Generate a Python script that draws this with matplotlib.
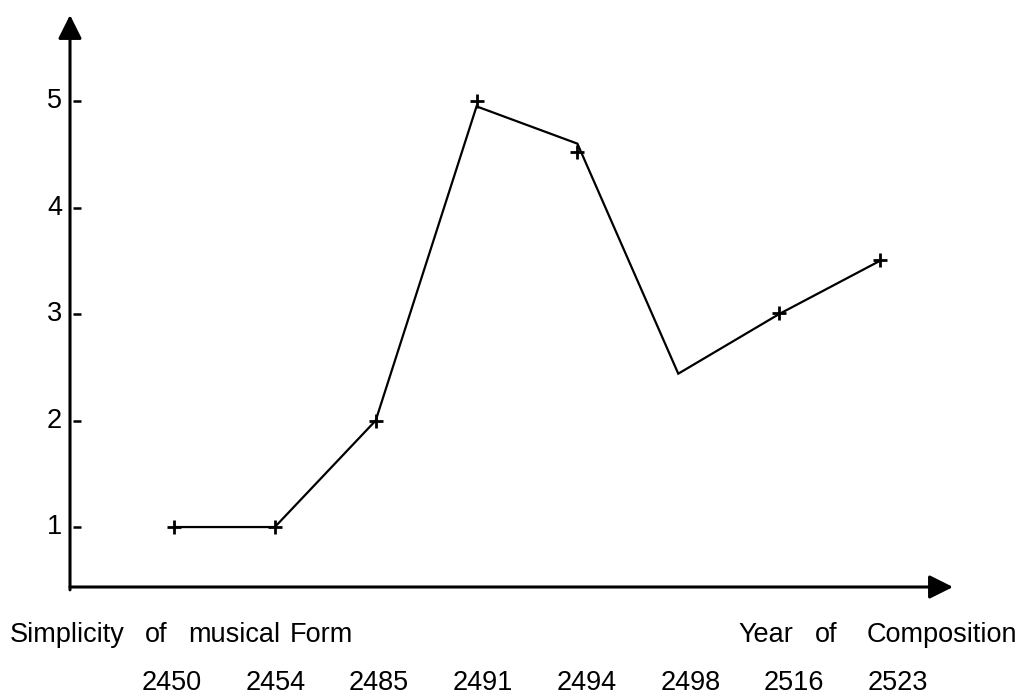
import numpy as np
import matplotlib
matplotlib.use("Agg")
import matplotlib.pyplot as plt
from matplotlib.transforms import blended_transform_factory

plt.rcParams['font.family'] = ['Liberation Sans', 'DejaVu Sans']

# datos
years = ['2450', '2454', '2485', '2491', '2494', '2498', '2516', '2523']
line_values = [1.0, 1.0, 2.0, 4.95, 4.6, 2.44, 3.0, 3.5]       # vertices de la linea
marker_values = [1.0, 1.0, 2.0, 5.0, 4.52, np.nan, 3.01, 3.51]  # cruces (+)
y_ticks = [1, 2, 3, 4, 5]

W, H = 1023, 697
fig = plt.figure(figsize=(W / 100, H / 100), dpi=100)

# origen de los ejes en (70, 587) px, flechas hasta x=953 y y=15
ax = fig.add_axes([70 / W, (H - 587) / H, (953 - 70) / W, (587 - 15) / H])
ax.set_xlim(-1.031, 7.724)
ax.set_ylim(0.437, 5.808)
ax.set_axis_off()

x = np.arange(len(years))
ax.plot(x, line_values, color='black', lw=1.6, solid_joinstyle='miter')
ax.plot(x, marker_values, ls='none', marker='+', color='black',
        markersize=10, markeredgewidth=2.0)

# ejes con flecha
arrow = dict(arrowstyle='-|>', lw=2.2, color='black', mutation_scale=36,
             shrinkA=0, shrinkB=0)
ax.annotate('', xy=(0, 1), xytext=(0, -0.005), xycoords='axes fraction', arrowprops=arrow)
ax.annotate('', xy=(1, 0), xytext=(0, 0), xycoords='axes fraction', arrowprops=arrow)

# marcas del eje y (guiones separados del eje) y sus etiquetas
trans = blended_transform_factory(ax.transAxes, ax.transData)
ax.plot(np.full(len(y_ticks), 0.0074), y_ticks, ls='none', marker='_', color='black',
        markersize=5.5, markeredgewidth=1.8, transform=trans)
for v in y_ticks:
    ax.text(-0.009, v, str(v), transform=trans, ha='right', va='center', fontsize=19.5)

# textos de abajo
fs = 19.5
for word, px in [('Simplicity', 10), ('of', 145), ('musical', 188), ('Form', 290),
                 ('Year', 738), ('of', 815), ('Composition', 867)]:
    fig.text(px / W, (H - 642) / H, word, ha='left', va='baseline', fontsize=fs)

# etiquetas de los anos (un poco mas separadas que las cruces)
lab_trans = blended_transform_factory(ax.transData, fig.transFigure)
for i, yr in enumerate(years):
    fig.text(i * 1.029 - 0.025, 1.5 / H, yr, transform=lab_trans,
             ha='center', va='bottom', fontsize=fs)

fig.savefig('out.png', dpi=100)
